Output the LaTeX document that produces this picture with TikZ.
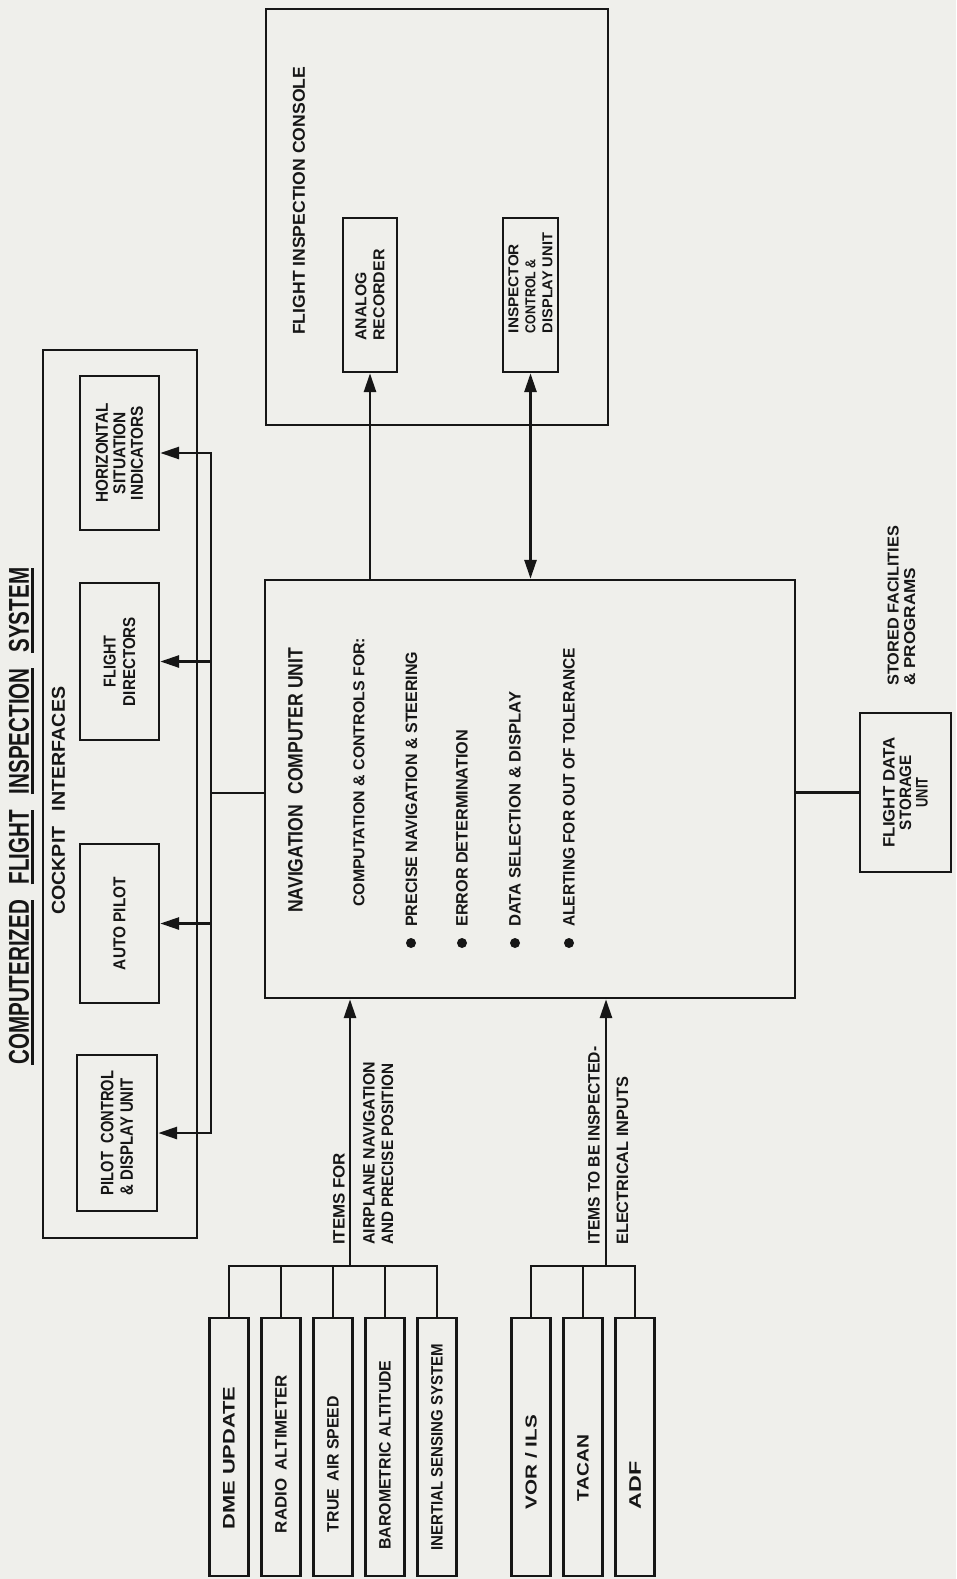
\documentclass[tikz,border=0pt]{standalone}
\usepackage{fontspec}
\setmainfont{Liberation Sans}
\usepackage{graphicx}
\usetikzlibrary{arrows.meta}
\definecolor{paper}{RGB}{239,239,235}
\definecolor{ink}{RGB}{22,22,22}
% #1 = cap height, #2 = length, #3 = text
\newcommand\fitx[3]{\resizebox{#2pt}{#1pt}{\fontsize{20pt}{24pt}\selectfont\bfseries #3}}
\newcommand\fitb[3]{\resizebox{#2pt}{#1pt}{\fontsize{20pt}{24pt}\selectfont\bfseries #3}}
% stacked lines: #1 = column type, #2 = gap between lines, #3 = lines separated by \nxl
\newcommand\stackx[3]{{\def\arraystretch{0}\def\nxl{\\[#2pt]}\begin{tabular}{@{}#1@{}}#3\end{tabular}}}
\newcommand\myul[1]{\setbox0=\hbox{#1}\rlap{\rule[-5pt]{\wd0}{3pt}}\box0}
\newcommand\rtx[1]{\rotatebox{90}{#1}}
\begin{document}
\begin{tikzpicture}[x=1pt,y=-1pt,
  box/.style={draw=ink, line width=2.4pt, inner sep=0pt, text=ink},
  txt/.style={inner sep=0pt, text=ink},
  con/.style={draw=ink, line width=2.8pt},
  arr/.style={con, -{Triangle[length=19pt,width=12pt]}},
  arrs/.style={con, {Triangle[length=19pt,width=12pt]}-{Triangle[length=19pt,width=12pt]}},
  dot/.style={circle, fill=ink, inner sep=0pt, minimum size=10pt},
  item/.style={box, minimum width=39pt, minimum height=258pt},
  cbox/.style={box, minimum width=79pt}]
\fill[paper] (0,0) rectangle (956,1579);
\useasboundingbox (0,0) rectangle (956,1579);

% title
\node[txt, anchor=south] (title) at (21.4,1065) {\rtx{\resizebox{497pt}{20pt}{\fontsize{28pt}{30pt}\selectfont\bfseries
  \myul{COMPUTERIZED}\hspace{0.76em}\myul{FLIGHT}\hspace{0.76em}\myul{INSPECTION}\hspace{0.76em}\myul{SYSTEM}}}};

% cockpit interfaces
\node[box, minimum width=154pt, minimum height=888pt] (cockpit) at (120,794) {};
\node[txt, anchor=south] (cockpitlbl) at (58.5,915) {\rtx{\fitx{13}{228}{COCKPIT\hspace{0.5em} INTERFACES}}};
\node[cbox, minimum height=154pt] (hsi) at (119.5,453)
  {\rtx{\stackx{c}{5.5}{\fitx{12}{99}{HORIZONTAL}\nxl\fitx{12}{82}{SITUATION}\nxl\fitx{12}{94}{INDICATORS}}}};
\node[cbox, minimum height=157pt] (fd) at (119.5,661.5)
  {\rtx{\stackx{c}{7.5}{\fitx{12}{52}{FLIGHT}\nxl\fitx{12}{89}{DIRECTORS}}}};
\node[cbox, minimum height=159pt] (ap) at (119.5,923.5)
  {\rtx{\fitx{12}{93}{AUTO PILOT}}};
\node[cbox, minimum width=80pt, minimum height=156pt] (pc) at (117,1133)
  {\rtx{\stackx{l}{7}{\fitx{12.5}{124}{PILOT\hspace{0.3em} CONTROL}\nxl\fitx{12.5}{117}{\& DISPLAY UNIT}}}};

% navigation computer unit
\node[box, minimum width=530pt, minimum height=418pt] (ncu) at (530,789) {};
\node[txt, anchor=south] (ncutitle) at (295.5,913) {\rtx{\fitx{14.5}{265}{NAVIGATION\hspace{0.3em} COMPUTER UNIT}}};
\node[txt, anchor=south] (ncusub) at (359,907) {\rtx{\fitx{11}{269}{COMPUTATION \& CONTROLS FOR:}}};
\node[dot] (b1) at (411,943) {};
\node[dot] (b2) at (462,943) {};
\node[dot] (b3) at (515,943) {};
\node[dot] (b4) at (569,943) {};
\node[txt, anchor=south] (p1) at (411.5,927) {\rtx{\fitx{11.5}{275}{PRECISE NAVIGATION \& STEERING}}};
\node[txt, anchor=south] (p2) at (462,927) {\rtx{\fitx{11.5}{197}{ERROR DETERMINATION}}};
\node[txt, anchor=south] (p3) at (515,927) {\rtx{\fitx{11.5}{235}{DATA SELECTION \& DISPLAY}}};
\node[txt, anchor=south] (p4) at (569,927) {\rtx{\fitx{11.5}{279}{ALERTING FOR OUT OF TOLERANCE}}};

% flight inspection console
\node[box, minimum width=342pt, minimum height=416pt] (fic) at (437,217) {};
\node[txt, anchor=south] (fictitle) at (299,335) {\rtx{\fitx{12}{268}{FLIGHT INSPECTION CONSOLE}}};
\node[box, minimum width=54pt, minimum height=154pt] (analog) at (370,295)
  {\rtx{\stackx{l}{7}{\fitx{11}{68}{ANALOG}\nxl\fitx{11}{91}{RECORDER}}}};
\node[box, minimum width=55pt, minimum height=154pt] (insp) at (530.5,295)
  {\rtx{\kern24pt\stackx{l}{7}{\fitx{10}{89}{INSPECTOR}\nxl\fitx{10}{74}{CONTROL \&}\nxl\fitx{10}{100}{DISPLAY UNIT}}}};

% flight data storage
\node[box, minimum width=91pt, minimum height=159pt] (fds) at (905.5,792.5)
  {\rtx{\stackx{c}{5}{\fitb{11.5}{110}{FLIGHT DATA}\nxl\fitb{11.5}{75}{STORAGE}\nxl\fitb{11.5}{30}{UNIT}}}};
\node[txt, anchor=south] (stored) at (901.5,686)
  {\rtx{\stackx{l}{5.5}{\fitb{11}{160}{STORED FACILITIES}\nxl\fitb{11}{118}{\& PROGRAMS}}}};

% input items
\node[item] (dme) at (229,1447) {\rtx{\fitx{11.5}{143}{DME UPDATE}\kern22pt}};
\node[item] (radio) at (281,1447) {\rtx{\fitx{11.5}{158}{RADIO\hspace{0.2em} ALTIMETER}\kern14pt}};
\node[item] (tas) at (333,1447) {\rtx{\fitx{11.5}{136}{TRUE\hspace{0.2em} AIR SPEED}\kern34pt}};
\node[item] (baro) at (385,1447) {\rtx{\fitx{11.5}{189}{BAROMETRIC ALTITUDE}\kern16pt}};
\node[item] (ins) at (437,1447) {\rtx{\fitx{11.5}{207}{INERTIAL SENSING SYSTEM}}};
\node[item] (vor) at (531,1447) {\rtx{\fitx{11.5}{94}{VOR / ILS}\kern30pt}};
\node[item] (tacan) at (583,1447) {\rtx{\fitx{11.5}{66}{TACAN}\kern42pt}};
\node[item] (adf) at (635,1447) {\rtx{\fitx{11.5}{48}{ADF}\kern76pt}};

\node[txt, anchor=south] (l1a) at (339,1245) {\rtx{\fitx{11.5}{92}{ITEMS FOR}}};
\node[txt, anchor=south] (l1b) at (378.25,1245)
  {\rtx{\stackx{l}{7}{\fitx{11.5}{183}{AIRPLANE NAVIGATION}\nxl\fitx{11.5}{181}{AND PRECISE POSITION}}}};
\node[txt, anchor=south] (l2a) at (594,1245) {\rtx{\fitx{11.5}{198}{ITEMS TO BE INSPECTED-}}};
\node[txt, anchor=south] (l2b) at (622.5,1245) {\rtx{\fitx{11.5}{168}{ELECTRICAL INPUTS}}};

% connectors: cockpit bus
\coordinate (j) at (211,793);
\draw[con] (j) -- (j -| ncu.west);
\draw[arr] (j) |- (hsi.east);
\draw[arr] (j) |- (pc.east);
\draw[arr] (fd.east -| j) -- (fd.east);
\draw[arr] (ap.east -| j) -- (ap.east);

% connectors: console
\draw[arr] (analog.south |- ncu.north) -- (analog.south);
\draw[arrs] (insp.south |- ncu.north) -- (insp.south);

% connector: storage
\draw[con] (fds.west -| ncu.east) -- (fds.west);

% connectors: inputs
\coordinate (c1) at (350,1266);
\coordinate (c2) at (606,1266);
\draw[con] (dme.north) |- (c1);
\draw[con] (ins.north) |- (c1);
\draw[con] (radio.north) -- (radio.north |- c1);
\draw[con] (tas.north) -- (tas.north |- c1);
\draw[con] (baro.north) -- (baro.north |- c1);
\draw[arr] (c1) -- (c1 |- ncu.south);
\draw[con] (vor.north) |- (c2);
\draw[con] (adf.north) |- (c2);
\draw[con] (tacan.north) -- (tacan.north |- c2);
\draw[arr] (c2) -- (c2 |- ncu.south);
\end{tikzpicture}
\end{document}
